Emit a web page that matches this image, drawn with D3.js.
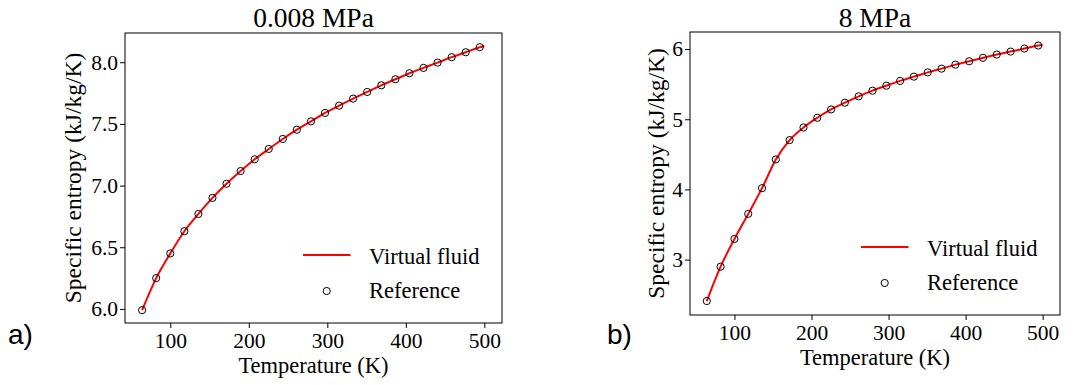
<!DOCTYPE html>
<html>
<head>
  <meta charset="utf-8">
  <script src="https://d3js.org/d3.v7.min.js"></script>
  <style>
    body { margin: 0; background: #fff; }
    .axis path { display: none; }
    .axis line { stroke: #000; stroke-width: 1px; }
  </style>
</head>
<body>
  <svg id="chart" width="1076" height="385"></svg>
  <script>
    const SERIF = "'Liberation Serif', 'Times New Roman', Times, serif";
    const SANS = "'Liberation Sans', Arial, Helvetica, sans-serif";

    // temperatures of the reference points (K)
    const temps = [64.1, 82.0, 100.0, 117.9, 135.8, 153.7, 171.6, 189.6, 207.5, 225.4,
      243.3, 261.2, 279.2, 297.1, 315.0, 332.9, 350.8, 368.8, 386.7, 404.6,
      422.5, 440.4, 458.4, 476.3, 494.2];

    // specific entropy at 0.008 MPa (kJ/kg/K)
    const entropyLow = [5.99, 6.25, 6.45, 6.63, 6.77, 6.90, 7.015, 7.118, 7.213, 7.297,
      7.378, 7.453, 7.521, 7.589, 7.648, 7.705, 7.759, 7.813, 7.862, 7.911,
      7.954, 7.997, 8.041, 8.081, 8.122];

    // specific entropy at 8 MPa (kJ/kg/K)
    const entropyHigh = [2.41, 2.90, 3.295, 3.652, 4.018, 4.427, 4.703, 4.883, 5.021, 5.140,
      5.236, 5.326, 5.407, 5.478, 5.546, 5.607, 5.668, 5.721, 5.778, 5.826,
      5.875, 5.922, 5.964, 6.007, 6.05];

    // virtual fluid curve end point (T = 500 K)
    const lineEndT = 500;
    const lineEndLow = 8.132;
    const lineEndHigh = 6.062;

    const xTicks = [100, 200, 300, 400, 500];
    const yTicksLow = [6.0, 6.5, 7.0, 7.5, 8.0];
    const yTicksHigh = [3, 4, 5, 6];

    const svg = d3.select("#chart");

    function serifText(sel, size) {
      return sel.style("font-family", SERIF).style("font-size", size + "px").attr("fill", "#000");
    }

    function drawPanel(opt) {
      const x = d3.scaleLinear().domain([42.3, 522.5]).range([opt.left, opt.right]);
      const y = d3.scaleLinear().domain(opt.yDomain).range([opt.bottom, opt.top]);
      const g = svg.append("g");

      // x axis
      const xa = g.append("g").attr("class", "axis")
        .attr("transform", "translate(0," + opt.bottom + ")")
        .call(d3.axisBottom(x).tickValues(xTicks).tickSize(5).tickPadding(5).tickFormat(d3.format("d")));
      xa.attr("font-family", null).attr("font-size", null);
      serifText(xa.selectAll("text"), 21.5);

      // y axis
      const ya = g.append("g").attr("class", "axis")
        .attr("transform", "translate(" + opt.left + ",0)")
        .call(d3.axisLeft(y).tickValues(opt.yTicks).tickSize(5).tickPadding(2).tickFormat(opt.yFormat));
      ya.attr("font-family", null).attr("font-size", null);
      serifText(ya.selectAll("text"), 21.5);

      // frame
      g.append("rect")
        .attr("x", opt.left).attr("y", opt.top)
        .attr("width", opt.right - opt.left).attr("height", opt.bottom - opt.top)
        .attr("fill", "none").attr("stroke", "#000").attr("stroke-width", 1);

      // curve
      const lineData = temps.map((t, i) => [t, opt.values[i]]).concat([[lineEndT, opt.lineEnd]]);
      const line = d3.line().x(d => x(d[0])).y(d => y(d[1])).curve(d3.curveMonotoneX);
      g.append("path").datum(lineData)
        .attr("d", line)
        .attr("fill", "none").attr("stroke", "red").attr("stroke-width", 2);

      // reference points
      g.selectAll("circle.ref").data(temps)
        .join("circle")
        .attr("class", "ref")
        .attr("cx", d => x(d))
        .attr("cy", (d, i) => y(opt.values[i]))
        .attr("r", 3.6)
        .attr("fill", "none").attr("stroke", "#000").attr("stroke-width", 1);

      // title
      const cx = (opt.left + opt.right) / 2;
      serifText(g.append("text").attr("x", cx).attr("y", 26.5)
        .attr("text-anchor", "middle"), 27.5).text(opt.title);

      // axis labels
      serifText(g.append("text").attr("x", cx).attr("y", opt.bottom + 50)
        .attr("text-anchor", "middle"), 22.5).text("Temperature (K)");
      serifText(g.append("text")
        .attr("transform", "translate(" + opt.yLabelX + "," + ((opt.top + opt.bottom) / 2) + ") rotate(-90)")
        .attr("text-anchor", "middle"), 23.5).text("Specific entropy (kJ/kg/K)");

      // legend
      const lx = opt.right - 199;
      const ly = opt.bottom - 68;
      g.append("line").attr("x1", lx).attr("x2", lx + 47.5).attr("y1", ly).attr("y2", ly)
        .attr("stroke", "red").attr("stroke-width", 2);
      serifText(g.append("text").attr("x", lx + 66).attr("y", ly + 9), 22.5).text("Virtual fluid");
      g.append("circle").attr("cx", lx + 23.7).attr("cy", ly + 36).attr("r", 3.6)
        .attr("fill", "none").attr("stroke", "#000").attr("stroke-width", 1);
      serifText(g.append("text").attr("x", lx + 66).attr("y", ly + 42.5), 22.5).text("Reference");

      // panel tag
      g.append("text").attr("x", opt.tagX).attr("y", 344)
        .style("font-family", SANS).style("font-size", "28px").attr("fill", "#000").text(opt.tag);
    }

    drawPanel({
      left: 125, right: 502, top: 33, bottom: 323,
      yDomain: [5.886, 8.237], yTicks: yTicksLow, yFormat: d3.format(".1f"),
      values: entropyLow, lineEnd: lineEndLow,
      title: "0.008 MPa", yLabelX: 81, tag: "a)", tagX: 8
    });

    drawPanel({
      left: 690, right: 1060, top: 32, bottom: 315,
      yDomain: [2.211, 6.243], yTicks: yTicksHigh, yFormat: d3.format("d"),
      values: entropyHigh, lineEnd: lineEndHigh,
      title: "8 MPa", yLabelX: 664, tag: "b)", tagX: 607
    });
  </script>
</body>
</html>
